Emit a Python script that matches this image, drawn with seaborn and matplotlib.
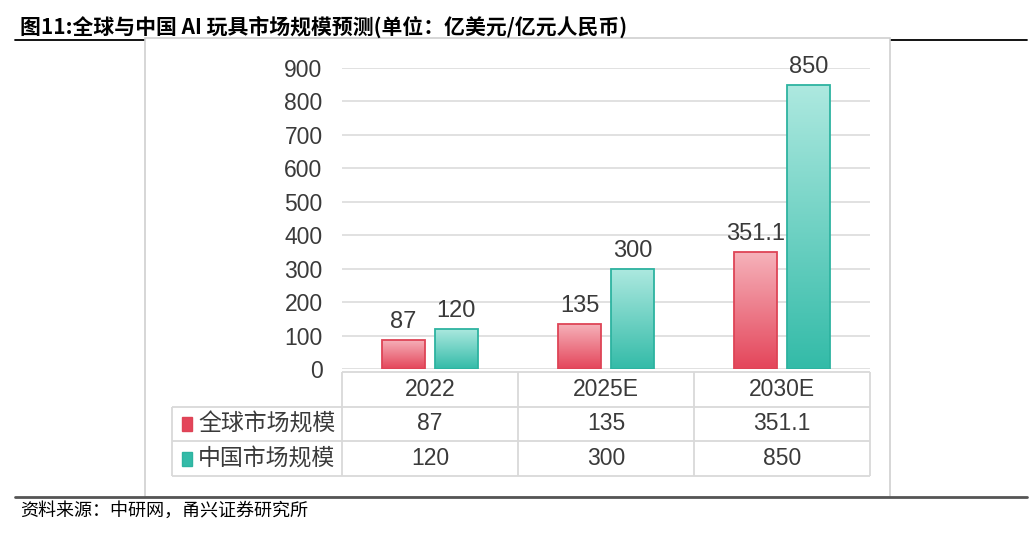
import numpy as np
import pandas as pd
import seaborn as sns
import matplotlib.pyplot as plt
from matplotlib.patches import Rectangle
from matplotlib.lines import Line2D
from matplotlib.colors import LinearSegmentedColormap

# data
years = ["2022", "2025E", "2030E"]
series = ["全球市场规模", "中国市场规模"]
global_size = [87, 135, 351.1]
china_size = [120, 300, 850]

title = "图11:全球与中国 AI 玩具市场规模预测(单位：亿美元/亿元人民币)"
source = "资料来源：中研网，甬兴证券研究所"

# (top, bottom, edge) colours for the gradient bars
styles = [("#f6b3bb", "#e4455a", "#de4456"),
          ("#aee9e0", "#33bba8", "#2db3a0")]
text_col = "#3a3a3a"
grid_col = "#d9d9d9"

sns.set_theme(style="white")
plt.rcParams['font.family'] = ['Liberation Sans', 'Noto Sans CJK SC', 'DejaVu Sans']

W, H = 1032, 535
fig = plt.figure(figsize=(W / 100, H / 100), dpi=100)


def fy(py):
    return 1 - py / H


df = pd.DataFrame({
    "year": years * 2,
    "series": [series[0]] * len(years) + [series[1]] * len(years),
    "value": global_size + china_size,
})

ax = fig.add_axes([342 / W, fy(369), 528 / W, 301 / H])
sns.barplot(df, x="year", y="value", hue="series", hue_order=series,
            palette=[s[1] for s in styles], width=0.6, gap=0.2,
            legend=False, ax=ax)

# gradient fill clipped to each bar
for cont, (top, bot, edge) in zip(ax.containers, styles):
    cmap = LinearSegmentedColormap.from_list("g", [bot, top])
    for bar in cont:
        x0, y0 = bar.get_xy()
        w, h = bar.get_width(), bar.get_height()
        grad = np.linspace(0, 1, 256).reshape(-1, 1)
        im = ax.imshow(grad, extent=[x0, x0 + w, y0, y0 + h], origin='lower',
                       cmap=cmap, aspect='auto', zorder=0.9)
        im.set_clip_path(bar)
        bar.set_facecolor('none')
        bar.set_edgecolor(edge)
        bar.set_linewidth(1.3)
        bar.set_zorder(1)
    ax.bar_label(cont, labels=[f"{v:g}" for v in cont.datavalues],
                 padding=5, fontsize=17, color=text_col)

ax.set_xlim(-0.5, 2.5)
ax.set_ylim(0, 900)
ax.set_yticks(range(0, 901, 100))
ax.set_xticks([])
ax.set_xlabel("")
ax.set_ylabel("")
ax.grid(axis='y', color=grid_col, lw=1.1)
ax.set_axisbelow(True)
for s in ax.spines.values():
    s.set_visible(False)
ax.tick_params(axis='y', length=0, pad=14, labelsize=16.5, labelcolor=text_col)

# data table under the bars
xl = -0.5 - (342 - 172) / 176
tax = fig.add_axes([172 / W, fy(476), 698 / W, 104 / H])
tax.set_xlim(xl, 2.5)
tax.set_ylim(3, 0)
tax.axis('off')
kw = dict(color=grid_col, lw=1.3, clip_on=False)
tax.hlines(0, -0.5, 2.5, **kw)
tax.hlines([1, 2, 3], xl, 2.5, **kw)
tax.vlines([-0.5, 0.5, 1.5, 2.5], 0, 3, **kw)
tax.vlines(xl, 1, 3, **kw)

for i, yr in enumerate(years):
    tax.text(i, 0.5, yr, ha='center', va='center', fontsize=16.5, color=text_col)
for r, (name, vals, (top, bot, edge)) in enumerate(zip(series, [global_size, china_size], styles)):
    yrow = r + 1.5
    sx = (182 - 342) / 176 - 0.5
    tax.add_patch(Rectangle((sx, yrow - 0.2), 10 / 176, 0.4, fc=bot, ec=edge, lw=1, clip_on=False))
    tax.text((198 - 342) / 176 - 0.5, yrow, name, ha='left', va='center',
             fontsize=16.5, color=text_col, family=['Noto Sans CJK SC'])
    for i, v in enumerate(vals):
        tax.text(i, yrow, f"{v:g}", ha='center', va='center', fontsize=16.5, color=text_col)

# page frame: title rule, chart box, bottom rule
fig.add_artist(Line2D([15 / W, 1027 / W], [fy(40), fy(40)], color='black', lw=1.3, zorder=-3))
fig.add_artist(Rectangle((145 / W, fy(497)), 745 / W, (497 - 38) / H, fc='white',
                         ec='#cfcfcf', lw=1.2, zorder=-2, transform=fig.transFigure))
fig.add_artist(Line2D([15 / W, 1027 / W], [fy(497), fy(497)], color='#555555', lw=2, zorder=2))

fig.text(20 / W, fy(27), title, fontsize=15, fontweight='bold', va='center',
         color='black', family=['Noto Sans CJK SC'])
fig.text(20 / W, fy(511), source, fontsize=13, va='center', color='black',
         family=['Noto Sans CJK SC'])

fig.savefig("out.png", dpi=100)
